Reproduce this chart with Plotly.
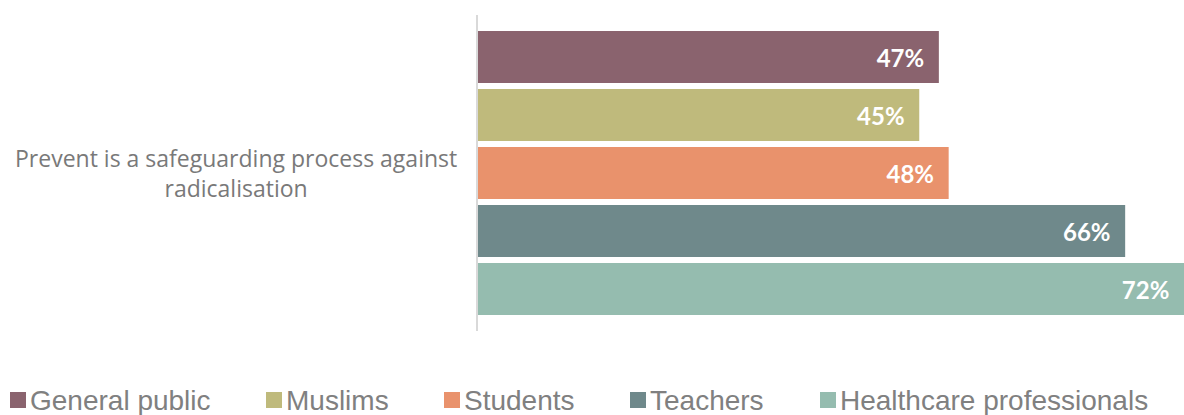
import plotly.graph_objects as go

# Survey data: share agreeing with the statement, by group
category = "Prevent is a safeguarding process against<br>radicalisation"
groups = ["General public", "Muslims", "Students", "Teachers", "Healthcare professionals"]
values = [47, 45, 48, 66, 72]
colors = ["#8a636e", "#bfba7c", "#e9926c", "#6f898b", "#95bcaf"]

# Legend layout (custom row under the plot)
legend_x_px = [10, 266, 444, 630, 820]

W, H = 1184, 415
M_L, M_R, M_T, M_B = 478, 0, 15, 84
plot_w = W - M_L - M_R
plot_h = H - M_T - M_B

fig = go.Figure()
for name, v, c in zip(groups, values, colors):
    fig.add_trace(go.Bar(
        y=[category], x=[v], name=name, orientation="h",
        marker=dict(color=c, line=dict(width=0)),
        texttemplate="%{x}%\u00a0\u00a0", textposition="inside",
        insidetextanchor="end",
        textfont=dict(family="Lato", size=24, color="white", weight="bold"),
        showlegend=False,
    ))

# Category label to the left of the axis
fig.add_annotation(
    x=0, xref="paper", y=category, yref="y", xanchor="right", xshift=-19,
    text=category, showarrow=False, align="center",
    font=dict(family="Open Sans", size=23, color="#797979"),
)

# Legend row: colour squares and names
def px_to_paper_x(px):
    return (px - M_L) / plot_w

def px_to_paper_y(py):
    return (H - M_B - py) / plot_h

for name, c, lx in zip(groups, colors, legend_x_px):
    fig.add_shape(
        type="rect", xref="paper", yref="paper",
        x0=px_to_paper_x(lx), x1=px_to_paper_x(lx + 16),
        y0=px_to_paper_y(408), y1=px_to_paper_y(392),
        fillcolor=c, line=dict(width=0),
    )
    fig.add_annotation(
        x=px_to_paper_x(lx + 18), xref="paper", y=px_to_paper_y(400), yref="paper",
        xanchor="left", yanchor="middle", text=name, showarrow=False,
        font=dict(family="Liberation Sans", size=28, color="#808080"),
    )

fig.update_layout(
    width=W, height=H,
    margin=dict(l=M_L, r=M_R, t=M_T, b=M_B, pad=0),
    barmode="group", bargap=0.0823, bargroupgap=0.1034,
    paper_bgcolor="white", plot_bgcolor="white",
    uniformtext=dict(minsize=8, mode="show"),
    xaxis=dict(range=[0, 72], visible=False, fixedrange=True),
    yaxis=dict(autorange="reversed", showticklabels=False, showgrid=False,
               zeroline=False, showline=True, linecolor="#d9d9d9", linewidth=2,
               ticks=""),
)

fig.write_html("out.html")
